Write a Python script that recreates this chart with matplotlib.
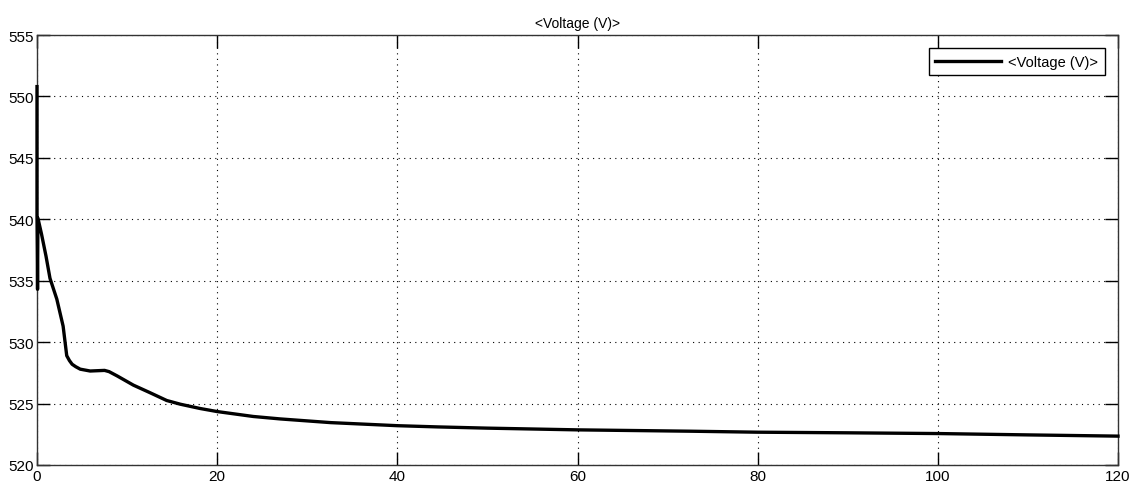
import matplotlib
matplotlib.use("Agg")
import matplotlib.pyplot as plt

# Bus voltage trace: time (s) and voltage (V)
time_s = [0.0, 0.0, 0.03, 0.06, 0.1, 0.5, 1.0, 1.44, 2.2, 2.9, 3.3, 3.6, 3.9, 4.3,
          4.8, 5.9, 7.5, 8.0, 8.9, 10.7, 12.5, 14.4, 15.9, 18.1, 20.0, 24.0, 27.0,
          32.6, 40.0, 44.5, 50.0, 60.0, 72.6, 80.0, 90.0, 100.0, 110.0, 120.0]
voltage_v = [550.8, 540.3, 537.6, 534.3, 540.1, 538.8, 537.0, 535.2, 533.5, 531.3,
             528.9, 528.5, 528.2, 528.0, 527.8, 527.65, 527.7, 527.6, 527.25, 526.5,
             525.9, 525.25, 524.95, 524.6, 524.35, 523.95, 523.75, 523.45, 523.2,
             523.1, 523.0, 522.86, 522.75, 522.67, 522.62, 522.56, 522.45, 522.35]

x_ticks = [0, 20, 40, 60, 80, 100, 120]
y_ticks = [520, 525, 530, 535, 540, 545, 550, 555]
series_label = "<Voltage (V)>"

plt.rcParams["font.family"] = ["Liberation Sans", "DejaVu Sans"]

fig = plt.figure(figsize=(11.35, 4.89), dpi=100)
ax = fig.add_axes([37 / 1135, 1 - 466 / 489, 1081 / 1135, 430 / 489])

ax.plot(time_s, voltage_v, color="black", lw=2.4, label=series_label,
        solid_joinstyle="round", clip_on=False, zorder=3)

ax.set_xlim(0, 120)
ax.set_ylim(520, 555)
ax.set_xticks(x_ticks)
ax.set_yticks(y_ticks)
ax.tick_params(direction="in", length=9.5, width=1, top=True, right=True,
               labelsize=11, pad=2, colors="black")
ax.tick_params(axis="x", pad=3)

ax.grid(True, color="black", linestyle=(0, (1, 4)), lw=0.8)

for sp in ax.spines.values():
    sp.set_color("#333333")
    sp.set_linewidth(1.0)

ax.set_title(series_label, fontsize=10, pad=6)

leg = ax.legend(loc="upper right", fontsize=10.5, fancybox=False, framealpha=1,
                edgecolor="black", handlelength=4.5, handletextpad=0.5,
                borderaxespad=0.9, borderpad=0.45)
leg.get_frame().set_linewidth(1.0)

fig.savefig("out.png", dpi=100)
